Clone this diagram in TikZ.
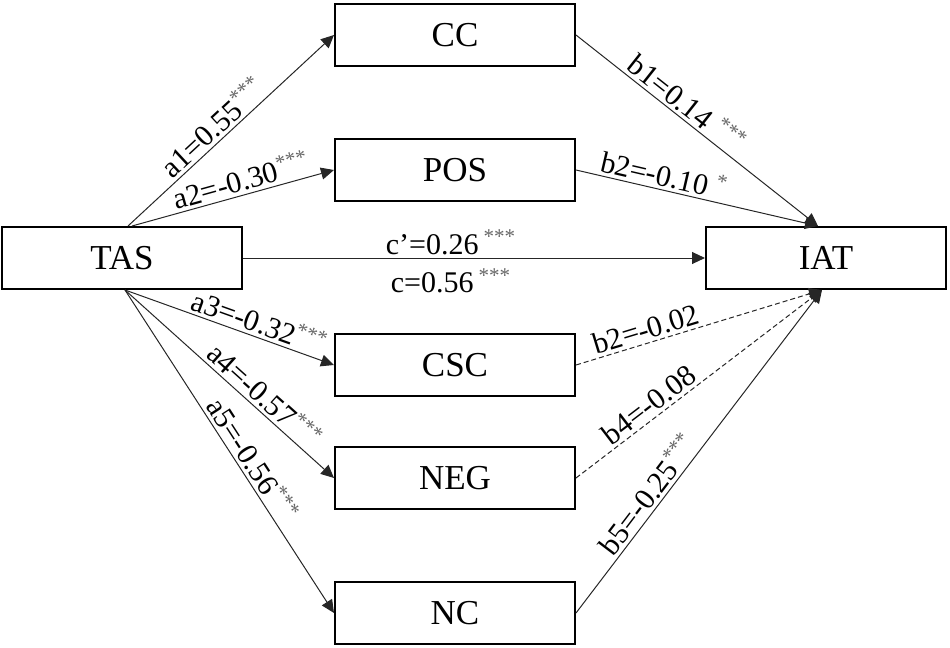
\documentclass[tikz,border=0pt]{standalone}
\usepackage{fontspec}
\setmainfont{Liberation Serif}
\usetikzlibrary{arrows.meta}

\newcommand{\sigstar}[1]{\textsuperscript{\color{black!60}#1}}

\begin{document}
\begin{tikzpicture}[x=0.5pt, y=-0.5pt,
   box/.style={draw, line width=1pt, minimum width=120pt, minimum height=31pt,
     font=\fontsize{17.5}{20}\selectfont},
   path/.style={line width=0.5pt, draw=black!85, -{Triangle[length=6.5pt,width=6pt]}},
   ns/.style={path, dashed, dash pattern=on 2.5pt off 1.5pt},
   lab/.style={sloped, above, inner sep=1.5pt, font=\fontsize{15}{17}\selectfont}]
   \useasboundingbox (0,0) rectangle (950,648);

   % draw boxes
   \node[box] (TAS) at (122,258) {TAS};
   \node[box] (IAT) at (826,258) {IAT};
   \node[box] (CC)  at (455,35)  {CC};
   \node[box] (POS) at (455,170) {POS};
   \node[box] (CSC) at (455,365) {CSC};
   \node[box] (NEG) at (455,478) {NEG};
   \node[box] (NC)  at (455,613) {NC};

   % anchor points on TAS and IAT
   \coordinate (tA) at ([xshift=3pt]TAS.north);
   \coordinate (tB) at ([xshift=5pt]TAS.north);
   \coordinate (tC) at ([xshift=1.5pt]TAS.south);
   \coordinate (iA) at ([xshift=-4pt]IAT.north);
   \coordinate (iB) at ([xshift=-2pt]IAT.south);

   % a paths
   \draw[path] (tA) -- (CC.west) node[lab, pos=0.46] {a1=0.55\sigstar{***}};
   \draw[path] (tB) -- (POS.west) node[lab, pos=0.56] {a2=-0.30\sigstar{***}};
   \draw[path] (tC) -- (CSC.west) node[lab, pos=0.62] {a3=-0.32\sigstar{***}};
   \draw[path] (tC) -- (NEG.west) node[lab, pos=0.62] {a4=-0.57\sigstar{***}};
   \draw[path] (tC) -- (NC.west) node[lab, pos=0.55] {a5=-0.56\sigstar{***}};

   % b paths
   \draw[path] (CC.east) -- (iA) node[lab, pos=0.42] {b1=0.14 \sigstar{***}};
   \draw[path] (POS.east) -- (iA) node[lab, pos=0.35] {b2=-0.10 \sigstar{*}};
   \draw[ns] (CSC.east) -- (iB) node[lab, pos=0.30] {b2=-0.02};
   \draw[ns] (NEG.east) -- (iB) node[lab, pos=0.33] {b4=-0.08};
   \draw[path] (NC.east) -- (iB) node[lab, pos=0.34] {b5=-0.25\sigstar{***}};

   % direct path
   \draw[path] (TAS.east) -- (IAT.west)
     node[lab, pos=0.45] {c’=0.26\,\sigstar{***}}
     node[lab, pos=0.45, below, inner sep=5pt] {c=0.56\,\sigstar{***}};
\end{tikzpicture}
\end{document}
